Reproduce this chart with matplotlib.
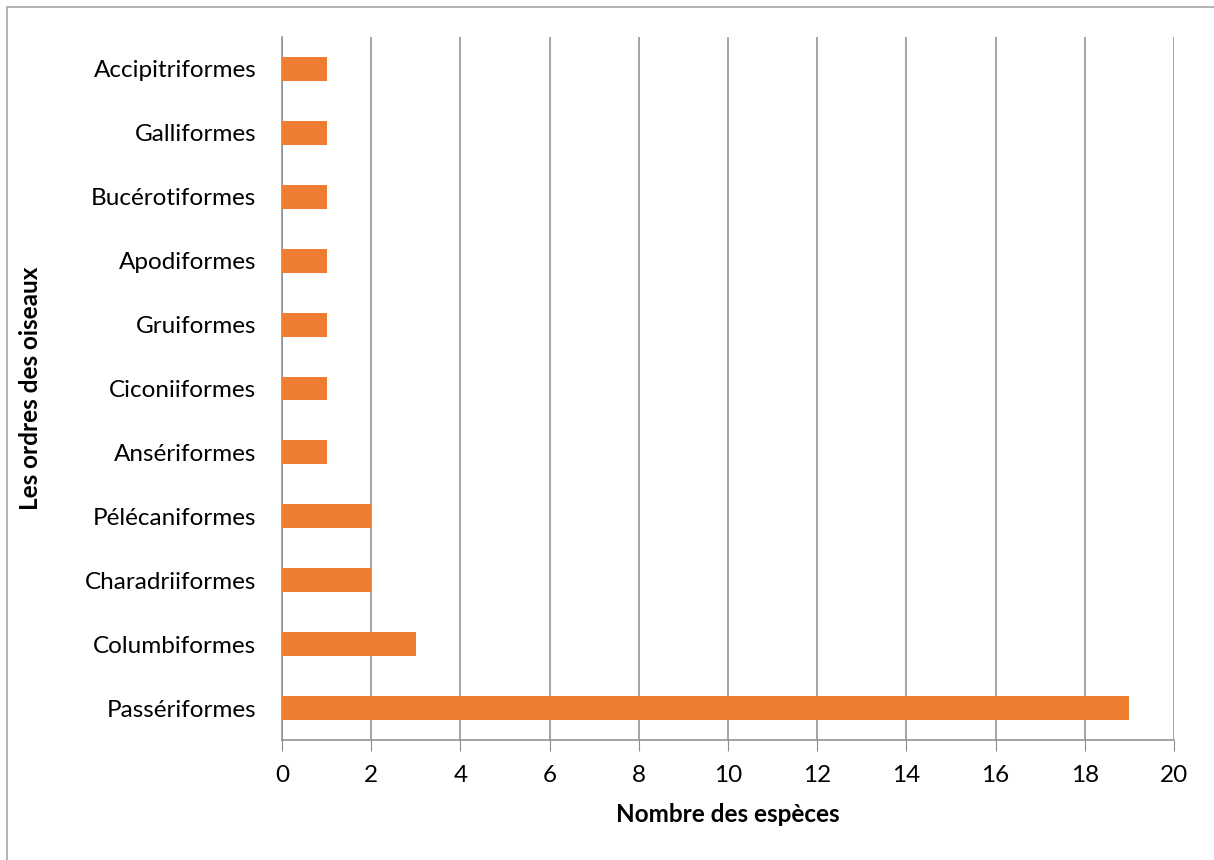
import matplotlib.pyplot as plt
from matplotlib.patches import Rectangle

plt.rcParams['font.family'] = ['Lato', 'DejaVu Sans']

ordres = ['Passériformes', 'Columbiformes', 'Charadriiformes', 'Pélécaniformes',
          'Ansériformes', 'Ciconiiformes', 'Gruiformes', 'Apodiformes',
          'Bucérotiformes', 'Galliformes', 'Accipitriformes']
nb_especes = [19, 3, 2, 2, 1, 1, 1, 1, 1, 1, 1]
ticks_x = list(range(0, 21, 2))

W, H = 1214, 860
fig = plt.figure(figsize=(W / 100, H / 100), dpi=100)
ax = fig.add_axes([282 / W, 1 - 740 / H, (1174 - 282) / W, (740 - 37) / H])

# cadre du graphique
fig.patches.append(Rectangle((7 / W, -0.1), 1.2, 1 - 7 / H + 0.1,
                             transform=fig.transFigure, fill=False,
                             edgecolor='#a6a6a6', linewidth=1.2))

pos = range(len(ordres))
ax.barh(pos, nb_especes, height=0.375, color='#ed7d31', zorder=3)

ax.set_xlim(0, 20)
ax.set_ylim(-0.5, len(ordres) - 0.5)
ax.set_xticks(ticks_x)
ax.set_xticklabels([str(t) for t in ticks_x], fontsize=17.5)
ax.set_yticks(list(pos))
ax.set_yticklabels(ordres, fontsize=17.5)

ax.grid(axis='x', color='#8c8c8c', linewidth=1.1, zorder=0)
for s in ['top', 'right']:
    ax.spines[s].set_visible(False)
for s in ['left', 'bottom']:
    ax.spines[s].set_color('#8c8c8c')
    ax.spines[s].set_linewidth(1.1)
ax.tick_params(axis='x', length=8, color='#8c8c8c', pad=10)
ax.tick_params(axis='y', length=0, pad=18.5)

ax.set_xlabel('Nombre des espèces', fontsize=17.5, fontweight='bold', labelpad=12)
ax.set_ylabel('Les ordres des oiseaux', fontsize=17.5, fontweight='bold')
ax.yaxis.set_label_coords(-240 / (1174 - 282), 0.5)

fig.savefig('out.png', dpi=100)
